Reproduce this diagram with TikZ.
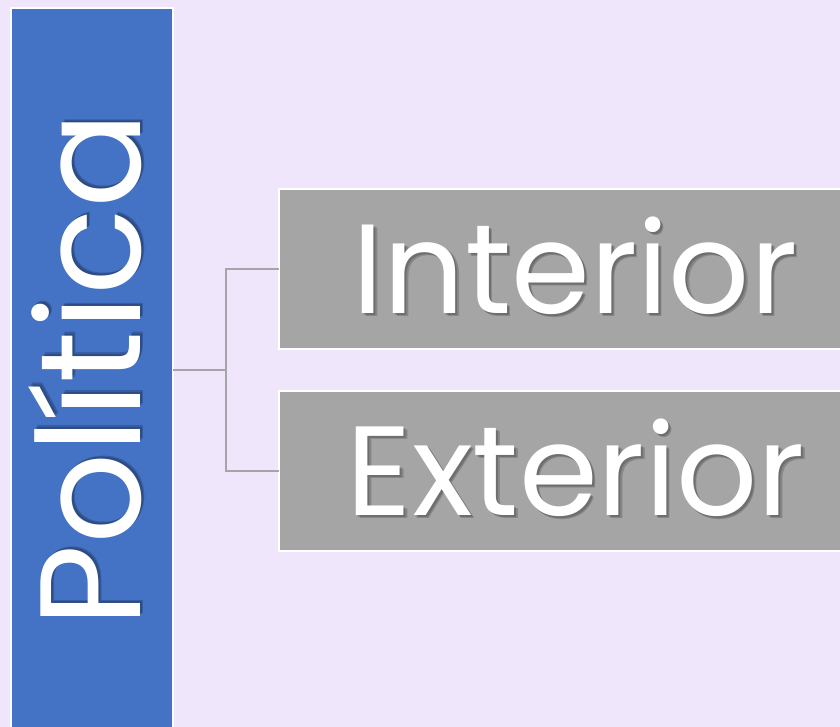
\documentclass[tikz,border=0pt]{standalone}
\usepackage{fontspec}
\setmainfont{Poppins}
\definecolor{bgc}{HTML}{EFE6FC}
\definecolor{bluec}{HTML}{4472C4}
\definecolor{grayc}{HTML}{A5A5A5}
\tikzset{
  bluebox/.style={draw=white, line width=2pt, fill=bluec, inner sep=0pt, outer sep=0pt},
  graybox/.style={draw=white, line width=2pt, fill=grayc, inner sep=0pt, outer sep=0pt, minimum width=592pt, minimum height=160pt},
  link/.style={draw=grayc, line width=2pt},
  bigtext/.style={text=white, inner sep=0pt, font=\fontsize{127}{135}\selectfont},
  sidetext/.style={text=white, inner sep=0pt, font=\fontsize{143}{150}\selectfont},
  shade/.style={text=black, opacity=0.18},
}
\begin{document}
\begin{tikzpicture}[x=1pt,y=-1pt]
\useasboundingbox (0,0) rectangle (840,727);
\fill[bgc] (0,0) rectangle (840,727);
\node[bluebox, minimum width=162pt, minimum height=740pt, anchor=north west] (blue) at (11,8) {};
\node[graybox] (top) at (575,269) {};
\node[graybox] (bot) at (575,470.5) {};
\coordinate (fork) at (226,370);
\draw[link] (blue.east |- fork) -- (fork);
\draw[link] (fork) |- (top.west);
\draw[link] (fork) |- (bot.west);
% shadows
\foreach \d in {2,3.5}{
  \node[sidetext, shade, rotate=90, anchor=base] at (140+\d,370-\d) {Política};
  \node[bigtext, shade, anchor=base] at (575+\d,313+\d) {Interior};
  \node[bigtext, shade, anchor=base] at (576+\d,515+\d) {Exterior};
}
\node[sidetext, rotate=90, anchor=base] (ptext) at (140,370) {Política};
\node[bigtext, anchor=base] (itext) at (575,313) {Interior};
\node[bigtext, anchor=base] (etext) at (576,515) {Exterior};
\end{tikzpicture}
\end{document}
